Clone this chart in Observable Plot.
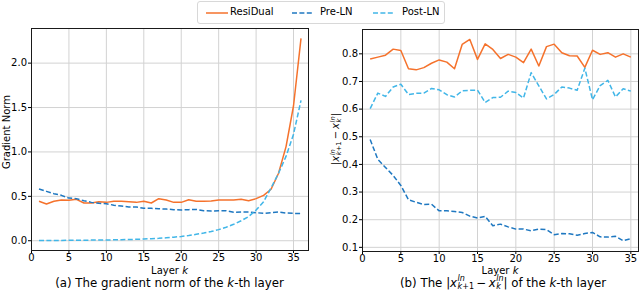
<!DOCTYPE html>
<html><head><meta charset="utf-8">
<script src="https://cdn.jsdelivr.net/npm/d3@7"></script>
<script src="https://cdn.jsdelivr.net/npm/@observablehq/plot@0.6"></script>
<style>
body{margin:0;background:#fff;font-family:"DejaVu Sans",sans-serif;color:#000;}
#wrap{position:relative;width:640px;height:292px;overflow:hidden;background:#fff;}
.abs{position:absolute;white-space:nowrap;}
.ctr{transform:translate(-50%,-50%);}
.rot{transform:translate(-50%,-50%) rotate(-90deg);}
.ss{display:inline-flex;flex-direction:column;vertical-align:middle;font-size:0.68em;line-height:0.95;margin-left:0.5px;}
.legend{position:absolute;left:197px;top:1px;width:246px;height:21px;border:1px solid #d8d8d8;border-radius:3px;background:#fff;}
.item{position:absolute;top:3px;font-size:10px;line-height:14px;}
</style></head><body><div id="wrap"></div>
<script>
// ---- data ----
const series = ["ResiDual", "Pre-LN", "Post-LN"];
const colors = ["#f5722c", "#1f78c1", "#41b6e8"];

// (a) gradient norm, layers 1..36
const layersA = [1,2,3,4,5,6,7,8,9,10,11,12,13,14,15,16,17,18,19,20,21,22,23,24,25,26,27,28,29,30,31,32,33,34,35,36];
const residualA = [0.444,0.414,0.444,0.459,0.455,0.466,0.425,0.425,0.440,0.432,0.444,0.444,0.440,0.432,0.444,0.425,0.474,0.459,0.432,0.432,0.462,0.444,0.444,0.447,0.459,0.459,0.459,0.466,0.451,0.474,0.511,0.580,0.760,1.060,1.520,2.278];
const preLNA = [0.583,0.556,0.530,0.511,0.480,0.474,0.451,0.432,0.421,0.417,0.400,0.390,0.380,0.380,0.365,0.365,0.360,0.357,0.350,0.346,0.350,0.353,0.338,0.335,0.338,0.338,0.320,0.323,0.323,0.316,0.308,0.316,0.323,0.312,0.308,0.308];
const postLNA = [0.003,0.003,0.004,0.004,0.005,0.005,0.006,0.007,0.008,0.009,0.010,0.012,0.014,0.016,0.019,0.023,0.027,0.033,0.040,0.048,0.058,0.072,0.086,0.103,0.125,0.152,0.185,0.225,0.272,0.345,0.440,0.595,0.760,0.950,1.200,1.580];

// (b) |x_{k+1} - x_k|, layers 1..35
const layersB = [1,2,3,4,5,6,7,8,9,10,11,12,13,14,15,16,17,18,19,20,21,22,23,24,25,26,27,28,29,30,31,32,33,34,35];
const residualB = [0.781,0.788,0.795,0.817,0.812,0.746,0.742,0.750,0.766,0.778,0.770,0.746,0.834,0.852,0.780,0.836,0.816,0.783,0.798,0.788,0.768,0.817,0.756,0.826,0.835,0.804,0.793,0.792,0.751,0.813,0.798,0.804,0.788,0.800,0.788];
const preLNB = [0.490,0.418,0.389,0.360,0.324,0.272,0.263,0.255,0.256,0.232,0.232,0.230,0.226,0.213,0.206,0.212,0.178,0.184,0.174,0.166,0.166,0.160,0.166,0.164,0.146,0.150,0.149,0.144,0.150,0.154,0.138,0.137,0.140,0.124,0.131];
const postLNB = [0.602,0.658,0.646,0.680,0.690,0.653,0.657,0.658,0.675,0.670,0.652,0.644,0.666,0.668,0.669,0.624,0.642,0.643,0.665,0.660,0.640,0.732,0.684,0.637,0.653,0.680,0.676,0.668,0.748,0.634,0.685,0.704,0.644,0.674,0.665];

// tick labels
const xTicksA = [0,5,10,15,20,25,30,35];
const xTicksB = [0,5,10,15,20,25,30,35];
const yTicksA = [0.0,0.5,1.0,1.5,2.0];
const yTicksB = [0.1,0.2,0.3,0.4,0.5,0.6,0.7,0.8];

// ---- build ----
const wrap = document.getElementById("wrap");
const fmt = d3.format(".1f");
const gridColor = "#d2d2d2";

function panel(layers, vals, opts) {
  const rows = [];
  series.forEach((s, j) => layers.forEach((k, i) => rows.push({k, v: vals[j][i], s})));
  const lines = series.map((s, j) => Plot.line(rows.filter(r => r.s === s), {
    x: "k", y: "v", stroke: colors[j], strokeWidth: 1.5,
    strokeDasharray: j === 0 ? null : "5,2.4", strokeLinecap: "butt", strokeLinejoin: "round"
  }));
  return Plot.plot({
    width: 320, height: 262,
    marginTop: opts.mt, marginBottom: opts.mb, marginLeft: opts.ml, marginRight: opts.mr,
    style: {fontFamily: "DejaVu Sans", fontSize: "10px", color: "#000", background: "transparent", overflow: "visible"},
    x: {domain: opts.xd, ticks: opts.xt, tickSize: 3, tickPadding: 0.5, label: null},
    y: {domain: opts.yd, ticks: opts.yt, tickFormat: fmt, tickSize: 3, tickPadding: 1.5, label: null},
    marks: [
      Plot.gridX(opts.xt, {stroke: gridColor, strokeOpacity: 1, strokeWidth: 1}),
      Plot.gridY(opts.yt, {stroke: gridColor, strokeOpacity: 1, strokeWidth: 1}),
      ...lines,
      Plot.frame({stroke: "#1a1a1a", strokeWidth: 1})
    ]
  });
}

const pa = panel(layersA, [residualA, preLNA, postLNA], {mt: 28, mb: 12, ml: 31, mr: 12, xd: [0, 37], xt: xTicksA, yd: [-0.11, 2.39], yt: yTicksA});
pa.style.position = "absolute"; pa.style.left = "0px"; pa.style.top = "0px";
wrap.appendChild(pa);

const pb = panel(layersB, [residualB, preLNB, postLNB], {mt: 29, mb: 11, ml: 42, mr: 2, xd: [0, 36], xt: xTicksB, yd: [0.085, 0.888], yt: yTicksB});
pb.style.position = "absolute"; pb.style.left = "320px"; pb.style.top = "0px";
wrap.appendChild(pb);

const mathDiff = '|<i>x</i><span class="ss"><span><i>ln</i></span><span><i>k</i>+1</span></span>&#8201;&minus;&#8201;<i>x</i><span class="ss"><span><i>ln</i></span><span><i>k</i></span></span>|';

function add(html, cls, x, y, size) {
  const d = document.createElement("div");
  d.className = "abs " + cls;
  d.style.left = x + "px"; d.style.top = y + "px"; d.style.fontSize = size + "px";
  d.innerHTML = html;
  wrap.appendChild(d);
  return d;
}
add("Gradient Norm", "rot", 6, 132, 10);
add(mathDiff, "rot", 336, 139, 10);
add("Layer <i>k</i>", "ctr", 169.5, 270, 10);
add("Layer <i>k</i>", "ctr", 500, 270, 10);
add("(a) The gradient norm of the <i>k</i>-th layer", "ctr", 169.5, 283, 11.8);
add("(b) The " + mathDiff + " of the <i>k</i>-th layer", "ctr", 503, 283, 11.8);

// legend
const lg = document.createElement("div");
lg.className = "legend";
const items = [{x: 8, tx: 32}, {x: 94, tx: 122}, {x: 175, tx: 204}];
items.forEach((it, j) => {
  const sw = document.createElementNS("http://www.w3.org/2000/svg", "svg");
  sw.setAttribute("width", 22); sw.setAttribute("height", 6);
  sw.style.position = "absolute"; sw.style.left = it.x + "px"; sw.style.top = "8px";
  const ln = document.createElementNS("http://www.w3.org/2000/svg", "line");
  ln.setAttribute("x1", 0); ln.setAttribute("x2", 22); ln.setAttribute("y1", 3); ln.setAttribute("y2", 3);
  ln.setAttribute("stroke", colors[j]); ln.setAttribute("stroke-width", 1.5);
  if (j > 0) ln.setAttribute("stroke-dasharray", "5,2.4");
  sw.appendChild(ln);
  lg.appendChild(sw);
  const t = document.createElement("div");
  t.className = "item"; t.style.left = it.tx + "px"; t.textContent = series[j];
  lg.appendChild(t);
});
wrap.appendChild(lg);
</script></body></html>
